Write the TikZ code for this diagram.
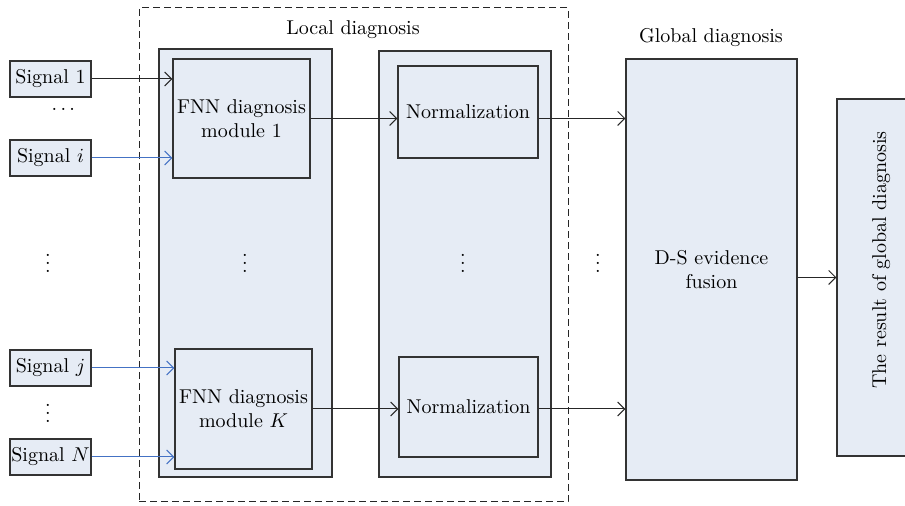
\documentclass[tikz,border=0pt]{standalone}
\usepackage{amsmath}
\usepackage{tikz}
\usetikzlibrary{arrows.meta}
\definecolor{panelfill}{RGB}{230,236,245}
\definecolor{sigblue}{RGB}{68,114,196}

\begin{document}
\begin{tikzpicture}[x=0.5pt,y=-0.5pt]
\tikzstyle{every node}+=[inner sep=0pt]
\tikzstyle{blk}=[draw=black!80, line width=0.6pt, fill=panelfill, align=center]
\tikzstyle{sigbox}=[blk, minimum width=40.5pt, minimum height=18pt]
\tikzstyle{arr}=[-{Straight Barb[length=3.5pt,width=7pt]}, line width=0.5pt, black!85]
\tikzstyle{barr}=[arr, sigblue]
\useasboundingbox (0,0) rectangle (905,506);
\node [draw=black!85, dash pattern=on 3.5pt off 2pt, line width=0.5pt, minimum width=214.5pt, minimum height=247pt] (local) at (353.5,255) {};
\node (localLbl) at (353,30) {Local diagnosis};
\node (globalLbl) at (711,38) {Global diagnosis};
\node [sigbox] (sig1) at (50.5,79) {Signal 1};
\node [sigbox] (sigi) at (50.5,158) {Signal $i$};
\node [sigbox] (sigj) at (50.5,368) {Signal $j$};
\node [sigbox] (sigN) at (50.5,457) {Signal $N$};
\node (dotsA) at (65,109) {$\dots$};
\node (vdotsA) at (48,257) {$\vdots$};
\node (vdotsB) at (48,407) {$\vdots$};
\node [blk, minimum width=86.5pt, minimum height=214pt] (fnnPanel) at (245.5,263) {};
\node [blk, minimum width=86pt, minimum height=213pt] (normPanel) at (465,264) {};
\node [blk, minimum width=68.5pt, minimum height=59.5pt] (fnn1) at (241.5,118.5) {FNN diagnosis\\module 1};
\node [blk, minimum width=68.5pt, minimum height=60pt] (fnnK) at (243.5,409) {FNN diagnosis\\module $K$};
\node [blk, minimum width=70pt, minimum height=46pt] (norm1) at (468,112) {Normalization};
\node [blk, minimum width=69.5pt, minimum height=50pt] (normK) at (468.5,407) {Normalization};
\node (vdotsC) at (245,257) {$\vdots$};
\node (vdotsD) at (463,257) {$\vdots$};
\node (vdotsE) at (598,257) {$\vdots$};
\node [blk, minimum width=85.5pt, minimum height=210.5pt] (ds) at (711.5,269.5) {D-S evidence\\fusion};
\node [blk, minimum width=44pt, minimum height=178.5pt] (res) at (881,277.5) {};
\node [rotate=90] (resLbl) at (881,260) {The result of global diagnosis};
\draw [arr] (sig1.east) -- (sig1.east -| fnn1.west);
\draw [barr] (sigi.east) -- (sigi.east -| fnn1.west);
\draw [barr] (sigj.east) -- (sigj.east -| fnnK.west);
\draw [barr] (sigN.east) -- (sigN.east -| fnnK.west);
\draw [arr] (fnn1.east) -- (fnn1.east -| norm1.west);
\draw [arr] (fnnK.east) -- (fnnK.east -| normK.west);
\draw [arr] (fnn1.east -| norm1.east) -- (fnn1.east -| ds.west);
\draw [arr] (fnnK.east -| normK.east) -- (fnnK.east -| ds.west);
\draw [arr] (res.west -| ds.east) -- (res.west);
\end{tikzpicture}
\end{document}
